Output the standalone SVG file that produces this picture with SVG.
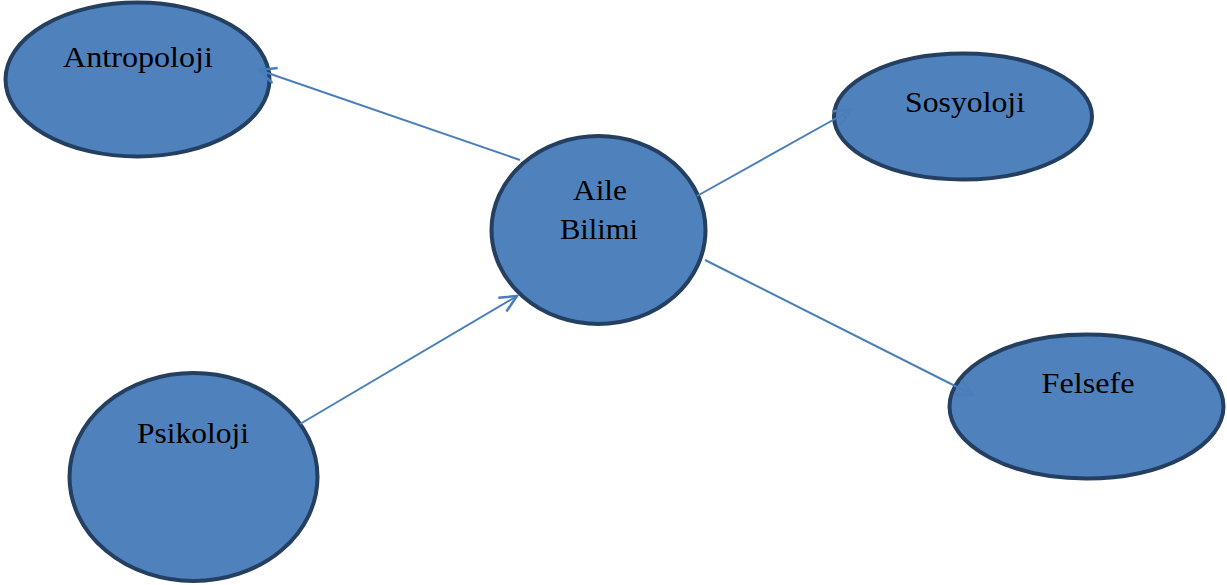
<svg xmlns="http://www.w3.org/2000/svg" width="1227" height="585" viewBox="0 0 1227 585">
<style>
.node ellipse{fill:#4f81bd;stroke:#243f60;stroke-width:4}
.node text{font-family:"Liberation Serif","Times New Roman",serif;font-size:29px;fill:#000;text-anchor:middle}
.conn line{stroke:#4a7ebb;stroke-width:2;fill:none;marker-end:url(#arr)}
</style>
<defs>
<marker id="arr" markerUnits="userSpaceOnUse" markerWidth="24" markerHeight="24" viewBox="-20 -12 24 24" refX="0" refY="0" orient="auto">
<path d="M-17,-8 L0,0 L-17,8" fill="none" stroke="#4a7ebb" stroke-width="2.5"/>
</marker>
</defs>
<g id="antropoloji" class="node"><ellipse cx="137.5" cy="79.5" rx="132" ry="77"/><text x="138" y="67" textLength="150" lengthAdjust="spacingAndGlyphs">Antropoloji</text></g>
<g id="sosyoloji" class="node"><ellipse cx="963" cy="116.5" rx="129" ry="63"/><text x="965" y="112" textLength="120" lengthAdjust="spacingAndGlyphs">Sosyoloji</text></g>
<g id="aile" class="node"><ellipse cx="598.5" cy="230" rx="107" ry="94"/><text x="600" y="200" textLength="54" lengthAdjust="spacingAndGlyphs">Aile</text><text x="599" y="239" textLength="78" lengthAdjust="spacingAndGlyphs">Bilimi</text></g>
<g id="psikoloji" class="node"><ellipse cx="193.5" cy="477" rx="124" ry="104"/><text x="193" y="443" textLength="112" lengthAdjust="spacingAndGlyphs">Psikoloji</text></g>
<g id="felsefe" class="node"><ellipse cx="1086.5" cy="406.5" rx="137" ry="72"/><text x="1088" y="393" textLength="93" lengthAdjust="spacingAndGlyphs">Felsefe</text></g>
<g id="connectors" class="conn">
<line x1="520" y1="160" x2="259" y2="70"/>
<line x1="697" y1="196" x2="851" y2="110"/>
<line x1="300" y1="424" x2="517" y2="296"/>
<line x1="705" y1="260" x2="973" y2="395"/>
</g>
</svg>
